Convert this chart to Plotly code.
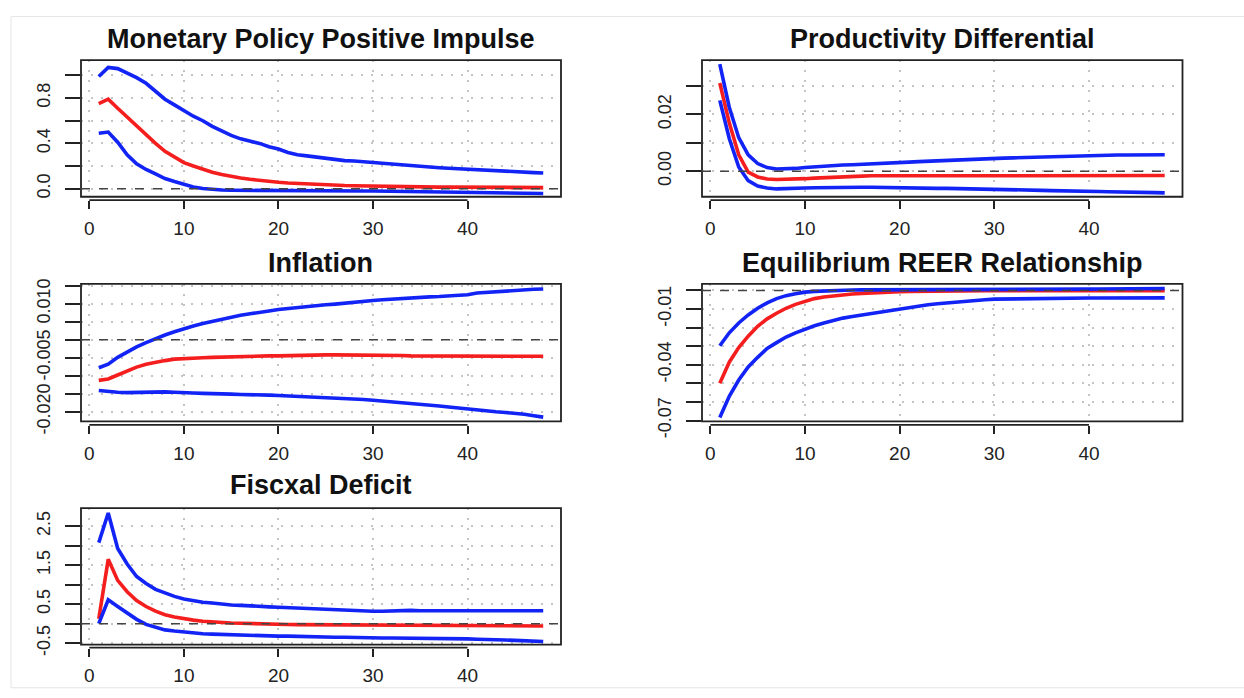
import plotly.graph_objects as go

horizon = list(range(1, 49))

titles = ["Monetary Policy Positive Impulse", "Productivity Differential",
          "Inflation", "Equilibrium REER Relationship", "Fiscxal Deficit"]

mp_irf = [0.75, 0.79, 0.71, 0.63, 0.55, 0.47, 0.40, 0.33, 0.28, 0.23, 0.20, 0.17, 0.145, 0.125, 0.108, 0.095,
          0.083, 0.073, 0.064, 0.057, 0.051, 0.046, 0.041, 0.037, 0.034, 0.031, 0.028, 0.026, 0.024, 0.022, 0.021, 0.019,
          0.018, 0.017, 0.016, 0.015, 0.014, 0.014, 0.013, 0.013, 0.012, 0.012, 0.011, 0.011, 0.011, 0.010, 0.010, 0.010]
mp_upper = [0.99, 1.07, 1.06, 1.02, 0.98, 0.93, 0.86, 0.79, 0.74, 0.69, 0.64, 0.60, 0.55, 0.51, 0.47, 0.44,
            0.42, 0.40, 0.37, 0.35, 0.32, 0.30, 0.29, 0.28, 0.27, 0.255, 0.248, 0.245, 0.238, 0.23, 0.222, 0.215,
            0.205, 0.198, 0.195, 0.19, 0.185, 0.18, 0.175, 0.17, 0.165, 0.16, 0.156, 0.152, 0.148, 0.145, 0.142, 0.138]
mp_lower = [0.49, 0.50, 0.41, 0.30, 0.22, 0.17, 0.13, 0.09, 0.063, 0.037, 0.015, 0.002, -0.008, -0.012, -0.014, -0.015,
            -0.016, -0.016, -0.016, -0.016, -0.016, -0.017, -0.017, -0.017, -0.018, -0.018, -0.019, -0.019, -0.020, -0.020, -0.021, -0.022,
            -0.023, -0.024, -0.025, -0.026, -0.027, -0.028, -0.029, -0.030, -0.031, -0.032, -0.033, -0.035, -0.036, -0.038, -0.040, -0.042]

pd_irf = [0.0310, 0.0170, 0.0058, -0.0003, -0.0020, -0.0027, -0.0029, -0.0029, -0.0028, -0.0026, -0.0024, -0.0022,
          -0.0021, -0.0019, -0.0018, -0.0017, -0.0016, -0.0016, -0.0015, -0.0015, -0.0014, -0.0014, -0.0014, -0.0013,
          -0.0013, -0.0013, -0.0013, -0.0013, -0.0013, -0.0013, -0.0013, -0.0013, -0.0013, -0.0013, -0.0013, -0.0013,
          -0.0013, -0.0014, -0.0014, -0.0014, -0.0014, -0.0014, -0.0014, -0.0015, -0.0015, -0.0015, -0.0015, -0.0015]
pd_upper = [0.0376, 0.0225, 0.0118, 0.0058, 0.0027, 0.0013, 0.0008, 0.0008, 0.0010, 0.0013, 0.0016, 0.0018,
            0.0020, 0.0022, 0.0023, 0.0024, 0.0026, 0.0028, 0.0029, 0.0031, 0.0032, 0.0034, 0.0035, 0.0037,
            0.0038, 0.0039, 0.0041, 0.0042, 0.0044, 0.0045, 0.0046, 0.0047, 0.0048, 0.0049, 0.0050, 0.0052,
            0.0054, 0.0055, 0.0055, 0.0055, 0.0056, 0.0056, 0.0057, 0.0057, 0.0057, 0.0058, 0.0058, 0.0058]
pd_lower = [0.0249, 0.0115, 0.0015, -0.0033, -0.0052, -0.0059, -0.0062, -0.0062, -0.0061, -0.0059, -0.0058, -0.0057,
            -0.0056, -0.0055, -0.0055, -0.0056, -0.0056, -0.0057, -0.0057, -0.0057, -0.0058, -0.0058, -0.0059, -0.0060,
            -0.0060, -0.0061, -0.0062, -0.0063, -0.0063, -0.0064, -0.0064, -0.0065, -0.0066, -0.0066, -0.0067, -0.0068,
            -0.0068, -0.0069, -0.0070, -0.0070, -0.0071, -0.0072, -0.0072, -0.0073, -0.0074, -0.0074, -0.0075, -0.0076]

inf_irf = [-0.0113, -0.0109, -0.0098, -0.0086, -0.0076, -0.0068, -0.0062, -0.0058, -0.0054, -0.0052, -0.0051, -0.0050,
           -0.0049, -0.0048, -0.0047, -0.0047, -0.0046, -0.0046, -0.0045, -0.0045, -0.0044, -0.0044, -0.0043, -0.0043,
           -0.0042, -0.0042, -0.0042, -0.0042, -0.0043, -0.0043, -0.0043, -0.0044, -0.0044, -0.0045, -0.0045, -0.0045,
           -0.0045, -0.0045, -0.0045, -0.0045, -0.0045, -0.0045, -0.0045, -0.0046, -0.0046, -0.0046, -0.0046, -0.0046]
inf_upper = [-0.0078, -0.0068, -0.0049, -0.0034, -0.0020, -0.0008, 0.0003, 0.0013, 0.0022, 0.0031, 0.0038, 0.0045,
             0.0051, 0.0057, 0.0063, 0.0068, 0.0072, 0.0075, 0.0080, 0.0084, 0.0087, 0.0090, 0.0092, 0.0094,
             0.0097, 0.0099, 0.0102, 0.0104, 0.0107, 0.0109, 0.0111, 0.0113, 0.0114, 0.0116, 0.0117, 0.0119,
             0.0120, 0.0122, 0.0123, 0.0125, 0.0130, 0.0132, 0.0134, 0.0136, 0.0137, 0.0139, 0.0140, 0.0141]
inf_lower = [-0.0141, -0.0144, -0.0146, -0.0147, -0.0146, -0.0145, -0.0144, -0.0145, -0.0146, -0.0148, -0.0148, -0.0149,
             -0.0149, -0.0150, -0.0151, -0.0152, -0.0152, -0.0153, -0.0154, -0.0155, -0.0156, -0.0157, -0.0158, -0.0159,
             -0.0161, -0.0162, -0.0163, -0.0165, -0.0166, -0.0168, -0.0170, -0.0172, -0.0174, -0.0176, -0.0179, -0.0181,
             -0.0184, -0.0187, -0.0190, -0.0192, -0.0195, -0.0197, -0.0200, -0.0202, -0.0204, -0.0207, -0.0211, -0.0215]

reer_irf = [-0.0500, -0.0386, -0.0307, -0.0246, -0.0193, -0.0153, -0.0123, -0.0096, -0.0075, -0.0058, -0.0044, -0.0035,
            -0.0029, -0.0023, -0.0019, -0.0016, -0.0013, -0.0011, -0.0009, -0.0007, -0.0006, -0.0005, -0.0005, -0.0004,
            -0.0004, -0.0003, -0.0003, -0.0003, -0.0002, -0.0002, -0.0002, -0.0002, -0.0002, -0.0002, -0.0002, -0.0002,
            -0.0002, -0.0002, -0.0002, -0.0002, -0.0002, -0.0002, -0.0002, -0.0002, -0.0002, -0.0002, -0.0002, -0.0002]
reer_upper = [-0.0298, -0.0228, -0.0175, -0.0132, -0.0096, -0.0067, -0.0044, -0.0028, -0.0018, -0.0009, -0.0005, -0.0002,
              0.0000, 0.0001, 0.0002, 0.0003, 0.0003, 0.0003, 0.0004, 0.0004, 0.0004, 0.0004, 0.0005, 0.0005,
              0.0005, 0.0005, 0.0005, 0.0005, 0.0005, 0.0005, 0.0006, 0.0006, 0.0006, 0.0006, 0.0006, 0.0007,
              0.0007, 0.0007, 0.0007, 0.0007, 0.0008, 0.0008, 0.0008, 0.0009, 0.0009, 0.0009, 0.0010, 0.0010]
reer_lower = [-0.0684, -0.0570, -0.0482, -0.0412, -0.0360, -0.0312, -0.0281, -0.0251, -0.0228, -0.0207, -0.0190, -0.0175,
              -0.0161, -0.0149, -0.0140, -0.0132, -0.0123, -0.0114, -0.0105, -0.0096, -0.0089, -0.0082, -0.0077, -0.0072,
              -0.0067, -0.0062, -0.0057, -0.0053, -0.0050, -0.0047, -0.0046, -0.0045, -0.0045, -0.0044, -0.0044, -0.0043,
              -0.0043, -0.0042, -0.0042, -0.0041, -0.0041, -0.0041, -0.0041, -0.0040, -0.0040, -0.0040, -0.0040, -0.0040]

fd_irf = [0.125, 1.65, 1.11, 0.82, 0.59, 0.44, 0.32, 0.23, 0.17, 0.125, 0.09, 0.06, 0.04, 0.025, 0.015, 0.01,
          0.0, -0.01, -0.015, -0.02, -0.022, -0.025, -0.027, -0.03, -0.03, -0.032, -0.034, -0.035, -0.037, -0.04, -0.04, -0.042,
          -0.043, -0.044, -0.045, -0.046, -0.047, -0.048, -0.049, -0.05, -0.051, -0.052, -0.053, -0.054, -0.055, -0.056, -0.058, -0.06]
fd_upper = [2.08, 2.84, 1.93, 1.53, 1.21, 1.03, 0.88, 0.78, 0.70, 0.63, 0.58, 0.55, 0.53, 0.50, 0.48, 0.47,
            0.45, 0.44, 0.43, 0.42, 0.41, 0.40, 0.39, 0.38, 0.36, 0.34, 0.34, 0.33, 0.33, 0.32, 0.32, 0.33,
            0.35, 0.34, 0.33, 0.33, 0.32, 0.32, 0.32, 0.33, 0.33, 0.33, 0.33, 0.33, 0.33, 0.33, 0.33, 0.33]
fd_lower = [0.0, 0.61, 0.44, 0.28, 0.11, -0.02, -0.10, -0.16, -0.19, -0.22, -0.24, -0.26, -0.27, -0.28, -0.29, -0.30,
            -0.30, -0.31, -0.31, -0.32, -0.32, -0.33, -0.33, -0.34, -0.34, -0.35, -0.35, -0.36, -0.36, -0.37, -0.37, -0.37,
            -0.37, -0.375, -0.375, -0.38, -0.38, -0.385, -0.39, -0.39, -0.40, -0.40, -0.41, -0.42, -0.43, -0.44, -0.45, -0.46]

x_ticks = [0, 10, 20, 30, 40]
y_ticks = [
    [0.0, 0.2, 0.4, 0.6, 0.8, 1.0],
    [0.0, 0.01, 0.02, 0.03],
    [-0.020, -0.015, -0.010, -0.005, 0.0, 0.005, 0.010, 0.015],
    [-0.07, -0.06, -0.05, -0.04, -0.03, -0.02, -0.01, 0.0],
    [-0.5, 0.0, 0.5, 1.0, 1.5, 2.0, 2.5],
]
y_labels = [
    ["0.0", "", "0.4", "", "0.8", ""],
    ["0.00", "", "0.02", ""],
    ["-0.020", "", "", "-0.005", "", "", "0.010", ""],
    ["-0.07", "", "", "-0.04", "", "", "-0.01", ""],
    ["-0.5", "", "0.5", "", "1.5", "", "2.5"],
]
y_ranges = [[-0.071, 1.134], [-0.00895, 0.0390], [-0.0227, 0.0155], [-0.0705, 0.0035], [-0.54, 2.965]]
zero_level = 0.0

series = [(mp_irf, mp_upper, mp_lower), (pd_irf, pd_upper, pd_lower), (inf_irf, inf_upper, inf_lower),
          (reer_irf, reer_upper, reer_lower), (fd_irf, fd_upper, fd_lower)]

# layout geometry (pixels)
W, H = 1244, 698
cols = [(81, 561), (702, 1182.5)]
rows = [(57, 198, 201.5, 35), (288, 430, 433.5, 266), (519.5, 660.5, 663.5, 496)]
positions = [(0, 0), (0, 1), (1, 0), (1, 1), (2, 0)]

BLUE = "rgb(18,36,245)"
RED = "rgb(245,30,30)"
FONT = "Liberation Sans, Arial, sans-serif"
GRID = dict(showgrid=True, gridcolor="#c4c4c4", griddash="2px,8px", gridwidth=1.5)

fig = go.Figure()
layout = dict(width=W, height=H, margin=dict(l=0, r=0, t=0, b=0), showlegend=False,
              plot_bgcolor="white", paper_bgcolor="white", font=dict(family=FONT, color="black"))
shapes = []
annotations = []

for i, (irf, up, lo) in enumerate(series):
    r, c = positions[i]
    x0p, x1p = cols[c]
    top, bot, axpos, ty = rows[r]
    n = "" if i == 0 else str(i + 1)
    xa, ya = "x" + n, "y" + n
    for vals, col in ((irf, RED), (up, BLUE), (lo, BLUE)):
        fig.add_trace(go.Scatter(x=horizon, y=vals, mode="lines", xaxis=xa, yaxis=ya,
                                 line=dict(color=col, width=3.6), hoverinfo="skip"))
    layout["xaxis" + n] = dict(domain=[x0p / W, x1p / W], anchor="free", position=1 - axpos / H,
                               range=[-0.88, 49.88], tickvals=x_ticks, ticktext=[str(v) for v in x_ticks],
                               ticks="outside", ticklen=8, tickwidth=1.6, tickcolor="#222",
                               showline=False, zeroline=False, ticklabelstandoff=3,
                               tickfont=dict(size=19, color="#222"), **GRID)
    layout["yaxis" + n] = dict(domain=[1 - bot / H, 1 - top / H], anchor=xa, range=y_ranges[i],
                               tickvals=y_ticks[i], ticktext=y_labels[i], tickangle=-90,
                               ticks="outside", ticklen=15, tickwidth=1.6, tickcolor="#222",
                               showline=False, zeroline=False, ticklabelstandoff=8,
                               tickfont=dict(size=18, color="#222"), **GRID)
    # plot box
    shapes.append(dict(type="rect", xref=xa + " domain", yref=ya + " domain", x0=0, x1=1, y0=0, y1=1,
                       line=dict(color="#222", width=1.8), layer="above"))
    # zero reference line
    shapes.append(dict(type="line", xref=xa + " domain", yref=ya, x0=0, x1=1, y0=zero_level, y1=zero_level,
                       line=dict(color="#444", width=1.5, dash="dash"), layer="above"))
    # R-style x axis line spanning first to last tick
    shapes.append(dict(type="line", xref=xa, yref="paper", x0=x_ticks[0], x1=x_ticks[-1],
                       y0=1 - axpos / H, y1=1 - axpos / H, line=dict(color="#222", width=1.6)))
    annotations.append(dict(text="<b>" + titles[i] + "</b>", xref="paper", yref="paper",
                            x=(x0p + x1p) / 2 / W, y=1 - ty / H, xanchor="center", yanchor="middle",
                            showarrow=False, font=dict(size=27, family=FONT, color="#111")))

# faint outer frame of the original image
shapes.append(dict(type="rect", xref="paper", yref="paper", x0=11 / W, x1=1.01, y0=-0.01, y1=1 - 12 / H,
                   line=dict(color="#e4e4e4", width=1)))

layout["shapes"] = shapes
layout["annotations"] = annotations
fig.update_layout(**layout)
fig.write_html("out.html", config={"displayModeBar": False},
               post_script="document.body.style.margin='0px';document.body.style.overflow='hidden';")
